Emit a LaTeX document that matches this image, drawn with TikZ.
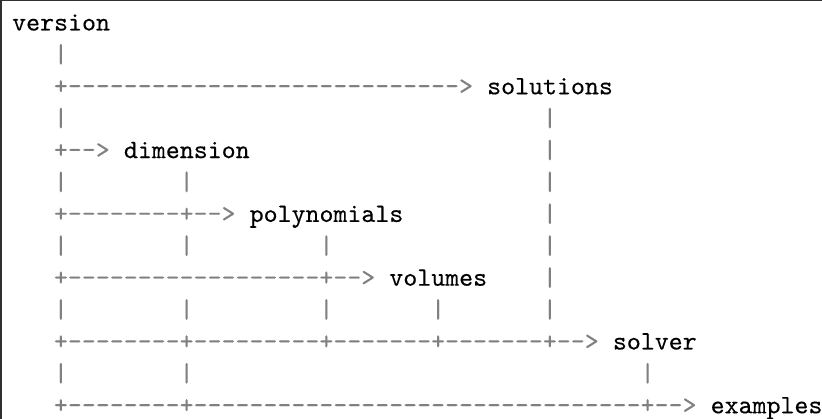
\documentclass[tikz,border=0pt]{standalone}
\usepackage{fontspec}
\newfontfamily\heavymono{lmmono10-regular.otf}[FakeBold=0.3]
\definecolor{ascgray}{HTML}{808080}
\definecolor{framegray}{HTML}{303030}
\newcommand\asciifont{\heavymono\fontsize{26.6}{32}\selectfont}
\tikzset{
  glyph/.style={text=ascgray, font=\asciifont, inner sep=0pt, anchor=base},
  lbl/.style={text=black, font=\asciifont, inner sep=0pt, anchor=base west},
}
% row, col, character
\newcommand\gl[3]{\node[glyph] (g-#1-#2) at ({12+(#2+0.5)*13.97},{-30.5-31.9*#1}) {#3};}
% row, col, name, text
\newcommand\lb[4]{\node[lbl] (#3) at ({12+#2*13.97},{-30.5-31.9*#1}) {#4};}
% row, from col, to col : dashes
\newcommand\dash[3]{\foreach \c in {#2,...,#3} {\gl{#1}{\c}{-}}}
\begin{document}
\begin{tikzpicture}[x=1pt,y=1pt]
\useasboundingbox (0,0) rectangle (822,-419);
\draw[framegray, line width=1.5pt] (0.75,-419) -- (0.75,-0.75) -- (822,-0.75);
% row 0
\lb{0}{0}{version}{version}
% row 1
\gl{1}{3}{|}
% row 2
\gl{2}{3}{+}\dash{2}{4}{31}\gl{2}{32}{>}
\lb{2}{34}{solutions}{solutions}
% row 3
\gl{3}{3}{|}\gl{3}{38}{|}
% row 4
\gl{4}{3}{+}\dash{4}{4}{5}\gl{4}{6}{>}
\lb{4}{8}{dimension}{dimension}
\gl{4}{38}{|}
% row 5
\gl{5}{3}{|}\gl{5}{12}{|}\gl{5}{38}{|}
% row 6
\gl{6}{3}{+}\dash{6}{4}{11}\gl{6}{12}{+}\dash{6}{13}{14}\gl{6}{15}{>}
\lb{6}{17}{polynomials}{polynomials}
\gl{6}{38}{|}
% row 7
\gl{7}{3}{|}\gl{7}{12}{|}\gl{7}{22}{|}\gl{7}{38}{|}
% row 8
\gl{8}{3}{+}\dash{8}{4}{21}\gl{8}{22}{+}\dash{8}{23}{24}\gl{8}{25}{>}
\lb{8}{27}{volumes}{volumes}
\gl{8}{38}{|}
% row 9
\gl{9}{3}{|}\gl{9}{12}{|}\gl{9}{22}{|}\gl{9}{30}{|}\gl{9}{38}{|}
% row 10
\gl{10}{3}{+}\dash{10}{4}{11}\gl{10}{12}{+}\dash{10}{13}{21}\gl{10}{22}{+}
\dash{10}{23}{29}\gl{10}{30}{+}\dash{10}{31}{37}\gl{10}{38}{+}\dash{10}{39}{40}\gl{10}{41}{>}
\lb{10}{43}{solver}{solver}
% row 11
\gl{11}{3}{|}\gl{11}{12}{|}\gl{11}{45}{|}
% row 12
\gl{12}{3}{+}\dash{12}{4}{11}\gl{12}{12}{+}\dash{12}{13}{44}\gl{12}{45}{+}\dash{12}{46}{47}\gl{12}{48}{>}
\lb{12}{50}{examples}{examples}
\end{tikzpicture}
\end{document}
